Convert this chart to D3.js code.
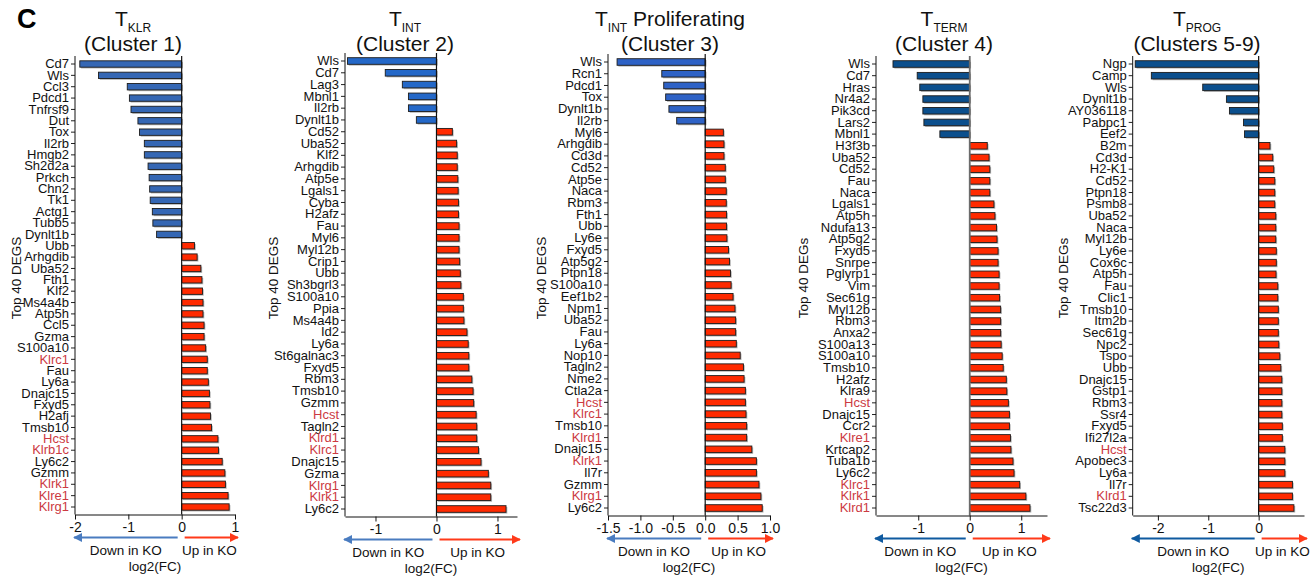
<!DOCTYPE html>
<html><head><meta charset="utf-8">
<script src="https://cdn.jsdelivr.net/npm/d3@7"></script>
<style>
body{margin:0;background:#fff;}
svg{font-family:"Liberation Sans",Arial,Helvetica,sans-serif;}
</style>
</head><body>
<svg id="chart" width="1315" height="577"></svg>
<script>
// ---------- DATA ----------
const genes1 = ["Cd7","Wls","Ccl3","Pdcd1","Tnfrsf9","Dut","Tox","Il2rb","Hmgb2","Sh2d2a","Prkch","Chn2","Tk1","Actg1","Tubb5","Dynlt1b",
  "Ubb","Arhgdib","Uba52","Fth1","Klf2","Ms4a4b","Atp5h","Ccl5","Gzma","S100a10","Klrc1","Fau","Ly6a","Dnajc15","Fxyd5","H2afj","Tmsb10","Hcst","Klrb1c","Ly6c2","Gzmm","Klrk1","Klre1","Klrg1"];
const fc1 = [-1.91,-1.56,-1.02,-0.98,-0.95,-0.82,-0.79,-0.70,-0.70,-0.63,-0.61,-0.60,-0.59,-0.55,-0.54,-0.47,
  0.24,0.29,0.36,0.38,0.39,0.40,0.40,0.42,0.42,0.45,0.48,0.48,0.50,0.52,0.53,0.54,0.56,0.68,0.69,0.76,0.81,0.82,0.87,0.89];
const red1 = ["Klrc1","Hcst","Klrb1c","Klrk1","Klre1","Klrg1"];

const genes2 = ["Wls","Cd7","Lag3","Mbnl1","Il2rb","Dynlt1b","Cd52","Uba52","Klf2","Arhgdib","Atp5e","Lgals1","Cyba","H2afz","Fau","Myl6","Myl12b","Crip1","Ubb",
  "Sh3bgrl3","S100a10","Ppia","Ms4a4b","Id2","Ly6a","St6galnac3","Fxyd5","Rbm3","Tmsb10","Gzmm","Hcst","Tagln2","Klrd1","Klrc1","Dnajc15","Gzma","Klrg1","Klrk1","Ly6c2"];
const fc2 = [-1.46,-0.84,-0.56,-0.46,-0.46,-0.33,0.26,0.33,0.34,0.34,0.35,0.355,0.36,0.36,0.37,0.37,0.37,0.38,0.39,
  0.40,0.44,0.44,0.45,0.50,0.52,0.53,0.53,0.58,0.60,0.61,0.65,0.66,0.66,0.69,0.73,0.85,0.89,0.89,1.14];
const red2 = ["Hcst","Klrd1","Klrc1","Klrg1","Klrk1"];

const genes3 = ["Wls","Rcn1","Pdcd1","Tox","Dynlt1b","Il2rb","Myl6","Arhgdib","Cd3d","Cd52","Atp5e","Naca","Rbm3","Fth1","Ubb","Ly6e","Fxyd5","Atp5g2","Ptpn18",
  "S100a10","Eef1b2","Npm1","Uba52","Fau","Ly6a","Nop10","Tagln2","Nme2","Ctla2a","Hcst","Klrc1","Tmsb10","Klrd1","Dnajc15","Klrk1","Il7r","Gzmm","Klrg1","Ly6c2"];
const fc3 = [-1.36,-0.67,-0.64,-0.61,-0.56,-0.44,0.28,0.29,0.29,0.31,0.31,0.325,0.325,0.33,0.33,0.335,0.36,0.375,0.39,
  0.40,0.43,0.46,0.47,0.47,0.48,0.54,0.59,0.60,0.62,0.62,0.63,0.64,0.64,0.72,0.79,0.79,0.83,0.86,0.88];
const red3 = ["Hcst","Klrc1","Klrd1","Klrk1","Klrg1"];

const genes4 = ["Wls","Cd7","Hras","Nr4a2","Pik3cd","Lars2","Mbnl1","H3f3b","Uba52","Cd52","Fau","Naca","Lgals1","Atp5h","Ndufa13","Atp5g2","Fxyd5","Snrpe","Pglyrp1",
  "Vim","Sec61g","Myl12b","Rbm3","Anxa2","S100a13","S100a10","Tmsb10","H2afz","Klra9","Hcst","Dnajc15","Ccr2","Klre1","Krtcap2","Tuba1b","Ly6c2","Klrc1","Klrk1","Klrd1"];
const fc4 = [-1.49,-1.02,-0.97,-0.91,-0.91,-0.89,-0.58,0.34,0.375,0.39,0.39,0.39,0.47,0.49,0.52,0.53,0.55,0.55,0.57,
  0.57,0.58,0.60,0.60,0.60,0.61,0.63,0.65,0.71,0.72,0.75,0.77,0.77,0.79,0.80,0.84,0.86,0.97,1.09,1.17];
const red4 = ["Hcst","Klre1","Klrc1","Klrk1","Klrd1"];

const genes5 = ["Ngp","Camp","Wls","Dynlt1b","AY036118","Pabpc1","Eef2","B2m","Cd3d","H2-K1","Cd52","Ptpn18","Psmb8","Uba52","Naca","Myl12b","Ly6e","Cox6c","Atp5h",
  "Fau","Clic1","Tmsb10","Itm2b","Sec61g","Npc2","Tspo","Ubb","Dnajc15","Gstp1","Rbm3","Ssr4","Fxyd5","Ifi27l2a","Hcst","Apobec3","Ly6a","Il7r","Klrd1","Tsc22d3"];
const fc5 = [-2.45,-2.13,-1.11,-0.64,-0.58,-0.30,-0.28,0.225,0.28,0.30,0.32,0.32,0.32,0.34,0.34,0.34,0.35,0.35,0.345,
  0.38,0.38,0.39,0.39,0.39,0.40,0.42,0.44,0.46,0.46,0.46,0.46,0.47,0.47,0.52,0.52,0.52,0.67,0.67,0.70];
const red5 = ["Hcst","Klrd1"];

const ticks1 = [-2,-1,0,1];
const ticks2 = [-1,0,1];
const ticks3 = [-1.5,-1.0,-0.5,0.0,0.5,1.0];
const ticks4 = [-1,0,1];
const ticks5 = [-2,-1,0];

const titleSubs = ["KLR","INT","INT","TERM","PROG"];
const titleLine2 = ["(Cluster 1)","(Cluster 2)","(Cluster 3)","(Cluster 4)","(Clusters 5-9)"];
const yLabels = ["Top 40 DEGS","Top 40 DEGS","Top 40 DEGS","Top 40 DEGs","Top 40 DEGs"];

// ---------- LAYOUT ----------
const panels = [
  {genes:genes1, fc:fc1, red:red1, ticks:ticks1, dec:0, sub:titleSubs[0], extra:"", l2:titleLine2[0], ylab:yLabels[0],
   dom:[-2,1], rng:[75,235], yc:[64,507], blue:"#3567b4", arrowBlue:"#4a7cc0", tcx:133, ylx:16},
  {genes:genes2, fc:fc2, red:red2, ticks:ticks2, dec:0, sub:titleSubs[1], extra:"", l2:titleLine2[1], ylab:yLabels[1],
   dom:[-1.5,1.32], rng:[345,517], yc:[61,509], blue:"#2468c8", arrowBlue:"#4a7cc0", tcx:405, ylx:273},
  {genes:genes3, fc:fc3, red:red3, ticks:ticks3, dec:1, sub:titleSubs[2], extra:" Proliferating", l2:titleLine2[2], ylab:yLabels[2],
   dom:[-1.5,1.0], rng:[608,770], yc:[62,508], blue:"#2e62c6", arrowBlue:"#4a7cc0", tcx:670, ylx:541},
  {genes:genes4, fc:fc4, red:red4, ticks:ticks4, dec:0, sub:titleSubs[3], extra:"", l2:titleLine2[3], ylab:yLabels[3],
   dom:[-1.82,1.5], rng:[876,1047], yc:[64,508], blue:"#0b4f8d", arrowBlue:"#0f5aa0", tcx:944, ylx:803},
  {genes:genes5, fc:fc5, red:red5, ticks:ticks5, dec:0, sub:titleSubs[4], extra:"", l2:titleLine2[4], ylab:yLabels[4],
   dom:[-2.5,0.9], rng:[1132.7,1304], yc:[64,508], blue:"#0b4f8d", arrowBlue:"#0f5aa0", tcx:1197, ylx:1063}
];

const svg = d3.select("#chart");
const RED = "#ff2a00", RED_LABEL = "#cc3a42", ARROW_RED = "#ff3a1a";
const FONT = "Liberation Sans, Arial, sans-serif";

svg.append("text").attr("x",17).attr("y",28).attr("font-size",27).attr("font-weight","bold").text("C");

function marker(id,color){
  svg.append("defs").append("marker").attr("id",id).attr("viewBox","0 0 10 10").attr("refX",9).attr("refY",5)
    .attr("markerWidth",4.5).attr("markerHeight",4.5).attr("orient","auto-start-reverse").attr("markerUnits","strokeWidth")
    .append("path").attr("d","M0,0L10,5L0,10Z").attr("fill",color);
}

panels.forEach((p,pi)=>{
  const n = p.genes.length;
  const step = (p.yc[1]-p.yc[0])/(n-1);
  const y = d3.scaleBand().domain(p.genes).range([p.yc[0]-step/2, p.yc[1]+step/2]).paddingInner(0.44).paddingOuter(0.22);
  const x = d3.scaleLinear().domain(p.dom).range(p.rng);
  const g = svg.append("g");
  const axisY = p.yc[1] + 7.5;
  const topY = p.yc[0] - 8;
  const data = p.genes.map((gname,i)=>({g:gname, v:p.fc[i]}));

  g.selectAll("rect.sh").data(data).join("rect").attr("class","sh")
    .attr("x",d=>Math.min(x(0),x(d.v))+1.3).attr("y",d=>y(d.g)+1.3)
    .attr("width",d=>Math.abs(x(d.v)-x(0))).attr("height",y.bandwidth())
    .attr("fill","#b5b5b5");
  g.selectAll("rect.bar").data(data).join("rect").attr("class","bar")
    .attr("x",d=>Math.min(x(0),x(d.v))).attr("y",d=>y(d.g))
    .attr("width",d=>Math.abs(x(d.v)-x(0))).attr("height",y.bandwidth())
    .attr("fill",d=>d.v<0?p.blue:RED).attr("stroke","#1c1c1c").attr("stroke-width",0.9);

  g.append("line").attr("x1",x(0)).attr("x2",x(0)).attr("y1",topY).attr("y2",axisY)
    .attr("stroke", pi===3 ? "#6b6b6b" : "#111").attr("stroke-width", pi===3 ? 1.8 : 1.2);

  const ya = g.append("g").attr("transform",`translate(${p.rng[0]},0)`)
    .call(d3.axisLeft(y).tickSize(4).tickPadding(2).tickSizeOuter(0));
  ya.attr("font-size",null).attr("font-family",null);
  ya.select(".domain").remove();
  ya.selectAll(".tick line").attr("stroke","#222");
  ya.selectAll(".tick text").style("font-size","13px").style("font-family",FONT)
    .attr("fill",d=>p.red.includes(d)?RED_LABEL:"#111");
  g.append("line").attr("x1",p.rng[0]).attr("x2",p.rng[0]).attr("y1",topY).attr("y2",axisY).attr("stroke","#111").attr("stroke-width",1);

  const xa = g.append("g").attr("transform",`translate(0,${axisY})`)
    .call(d3.axisBottom(x).tickValues(p.ticks).tickSize(5).tickSizeOuter(0).tickPadding(3)
      .tickFormat(d=>p.dec? d.toFixed(p.dec) : String(d)));
  xa.attr("font-size",null).attr("font-family",null);
  xa.select(".domain").attr("stroke","#111");
  xa.selectAll(".tick line").attr("stroke","#111");
  xa.selectAll(".tick text").style("font-size","14px").style("font-family",FONT).attr("fill","#111");

  const ay = axisY + 23;
  marker("mb"+pi,p.arrowBlue); marker("mr"+pi,ARROW_RED);
  const bx1 = x(0)-4, bx2 = p.rng[0]-1;
  const rx1 = x(0)+3, rx2 = p.rng[1]+3;
  g.append("line").attr("x1",bx1).attr("x2",bx2).attr("y1",ay).attr("y2",ay)
    .attr("stroke",p.arrowBlue).attr("stroke-width",2).attr("marker-end",`url(#mb${pi})`);
  g.append("line").attr("x1",rx1).attr("x2",rx2).attr("y1",ay).attr("y2",ay)
    .attr("stroke",ARROW_RED).attr("stroke-width",2).attr("marker-end",`url(#mr${pi})`);
  g.append("text").attr("x",(bx1+bx2)/2).attr("y",ay+17).attr("text-anchor","middle").attr("font-size",13.5).attr("fill","#111").text("Down in KO");
  g.append("text").attr("x",(rx1+rx2)/2-2).attr("y",ay+17).attr("text-anchor","middle").attr("font-size",13.5).attr("fill","#111").text("Up in KO");
  g.append("text").attr("x",(p.rng[0]+p.rng[1])/2).attr("y",ay+33).attr("text-anchor","middle").attr("font-size",13.5).attr("fill","#111").text("log2(FC)");

  g.append("text").attr("transform",`translate(${p.ylx+5},278) rotate(-90)`).attr("text-anchor","middle")
    .attr("font-size",13.5).attr("fill","#111").text(p.ylab);

  const t = g.append("text").attr("x",p.tcx).attr("y",26).attr("text-anchor","middle").attr("font-size",21).attr("fill","#111");
  t.append("tspan").text("T");
  t.append("tspan").attr("font-size",12).attr("dy",6).text(p.sub);
  if(p.extra) t.append("tspan").attr("dy",-6).text(p.extra);
  g.append("text").attr("x",p.tcx).attr("y",51).attr("text-anchor","middle").attr("font-size",21).attr("fill","#111").text(p.l2);
});
</script>
</body></html>
